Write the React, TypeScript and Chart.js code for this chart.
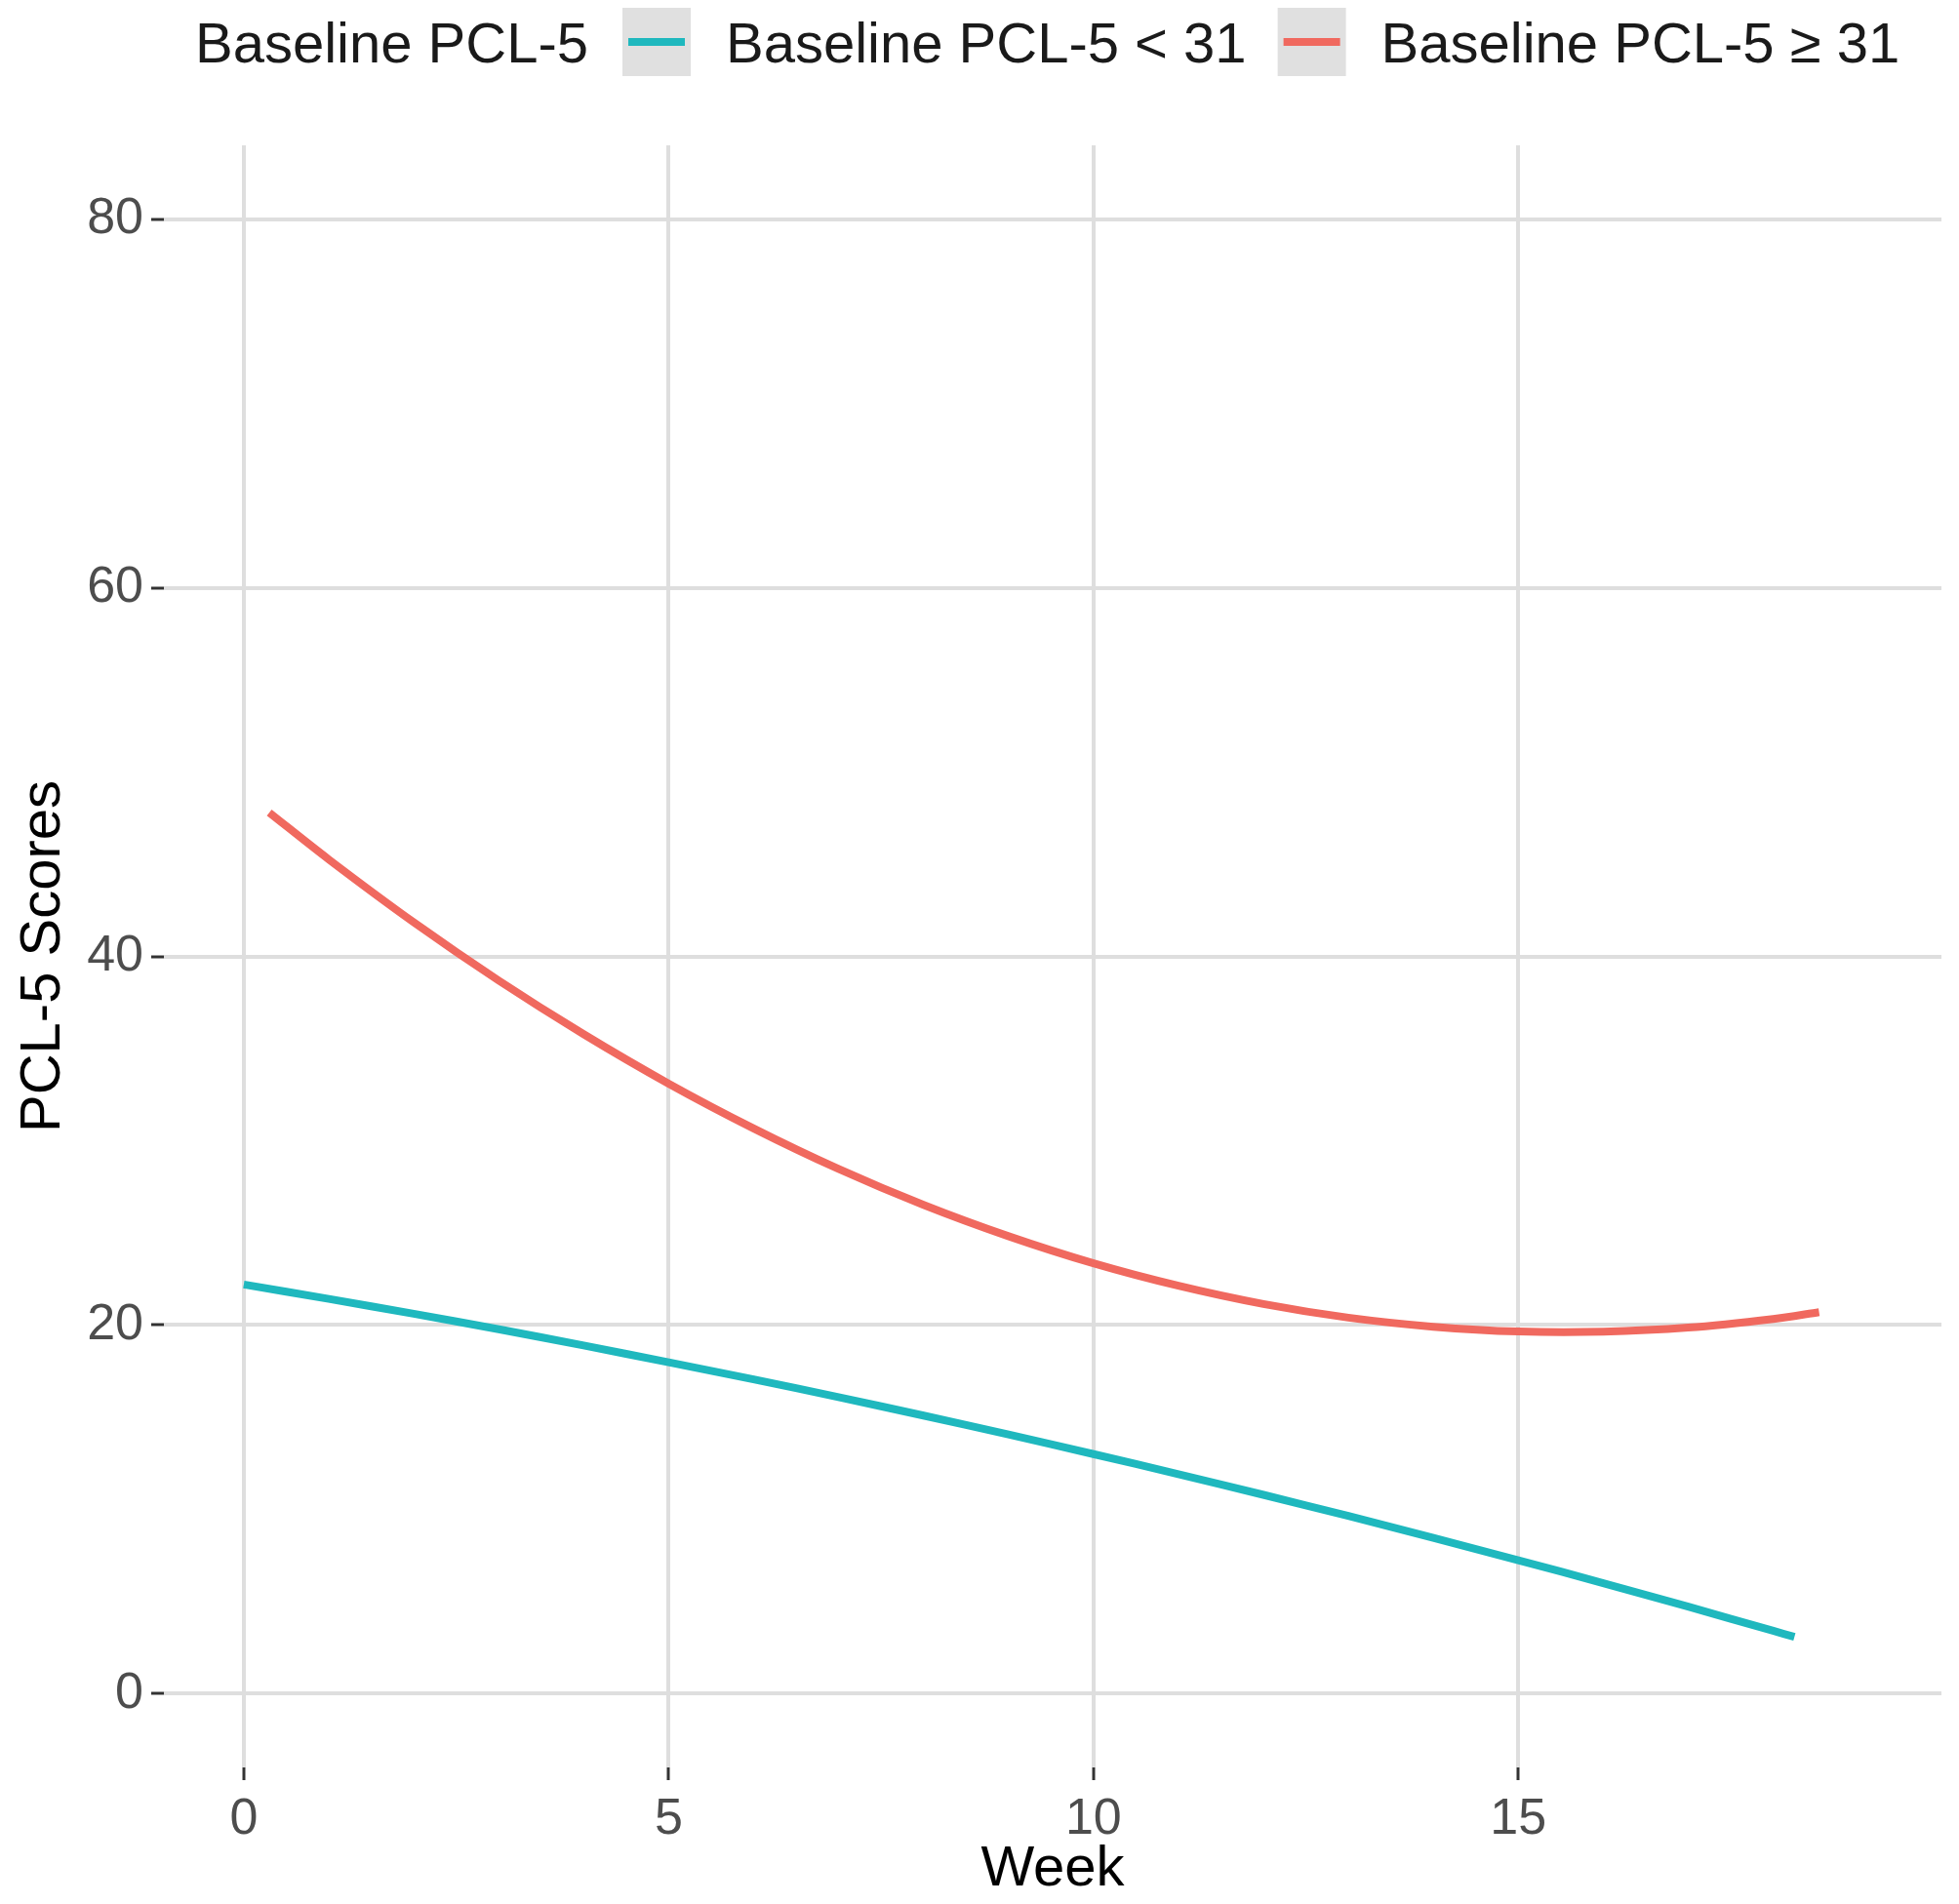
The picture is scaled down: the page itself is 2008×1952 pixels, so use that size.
import React, { useEffect, useRef } from "react";
import { Chart, registerables } from "chart.js";

Chart.register(...registerables);

// ---- data ----
const legendTitle = "Baseline PCL-5";
const seriesLabels = ["Baseline PCL-5 < 31", "Baseline PCL-5 ≥ 31"];
const seriesColors = ["#1fb8be", "#f0695f"];

const weeksLow = [0, 1, 2, 3, 4, 5, 6, 7, 8, 9, 10, 11, 12, 13, 14, 15, 16, 17, 18, 18.25];
const scoresLow = [22.2, 21.42, 20.61, 19.77, 18.89, 17.98, 17.05, 16.09, 15.09, 14.06, 13.0, 11.91, 10.79, 9.64, 8.45, 7.24, 6.0, 4.72, 3.41, 3.08];

const weeksHigh = [0.3, 1, 2, 3, 4, 5, 6, 7, 8, 9, 10, 11, 12, 13, 14, 15, 16, 17, 18, 18.54];
const scoresHigh = [47.8, 45.26, 41.85, 38.69, 35.78, 33.1, 30.67, 28.47, 26.52, 24.82, 23.35, 22.13, 21.14, 20.4, 19.91, 19.65, 19.64, 19.86, 20.33, 20.7];

const xTicks = [0, 5, 10, 15];
const yTicks = [0, 20, 40, 60, 80];
const xTitle = "Week";
const yTitle = "PCL-5 Scores";

const FONT = '"Liberation Sans", Arial, sans-serif';

const legendPlugin = {
  id: "ggLegend",
  afterDraw(chart: any) {
    const ctx = chart.ctx;
    ctx.save();
    ctx.font = `58px ${FONT}`;
    ctx.textBaseline = "alphabetic";
    ctx.textAlign = "left";
    const cy = 43;
    const baseY = 64;
    let x = 200;
    ctx.fillStyle = "#1a1a1a";
    ctx.fillText(legendTitle, x, baseY);
    x += ctx.measureText(legendTitle).width + 35;
    chart.data.datasets.forEach((ds: any) => {
      ctx.fillStyle = "#e0e0e0";
      ctx.fillRect(x, 8, 70, 70);
      ctx.strokeStyle = ds.borderColor;
      ctx.lineWidth = 8;
      ctx.lineCap = "butt";
      ctx.beginPath();
      ctx.moveTo(x + 6, cy);
      ctx.lineTo(x + 64, cy);
      ctx.stroke();
      x += 70 + 36;
      ctx.fillStyle = "#1a1a1a";
      ctx.fillText(ds.label, x, baseY);
      x += ctx.measureText(ds.label).width + 32;
    });
    ctx.restore();
  },
};

export default function App() {
  const canvasRef = useRef<HTMLCanvasElement | null>(null);

  useEffect(() => {
    if (!canvasRef.current) return;
    const toPoints = (xs: number[], ys: number[]) => xs.map((x, i) => ({ x, y: ys[i] }));
    const chart = new Chart(canvasRef.current, {
      type: "line",
      data: {
        datasets: [
          {
            label: seriesLabels[0],
            data: toPoints(weeksLow, scoresLow),
            borderColor: seriesColors[0],
            backgroundColor: seriesColors[0],
            borderWidth: 8,
            pointRadius: 0,
            tension: 0.3,
            borderCapStyle: "butt",
            fill: false,
          },
          {
            label: seriesLabels[1],
            data: toPoints(weeksHigh, scoresHigh),
            borderColor: seriesColors[1],
            backgroundColor: seriesColors[1],
            borderWidth: 8,
            pointRadius: 0,
            tension: 0.3,
            borderCapStyle: "butt",
            fill: false,
          },
        ],
      },
      options: {
        responsive: false,
        animation: false,
        devicePixelRatio: 1,
        layout: { padding: { top: 149, right: 18, left: 0, bottom: 0 } },
        plugins: {
          legend: { display: false },
          tooltip: { enabled: false },
        },
        scales: {
          x: {
            type: "linear",
            min: -0.94,
            max: 19.98,
            afterBuildTicks: (s: any) => {
              s.ticks = xTicks.map((v) => ({ value: v }));
            },
            afterFit: (s: any) => {
              s.height = 140;
            },
            ticks: {
              font: { family: FONT, size: 52 },
              color: "#4d4d4d",
              padding: 9,
              maxRotation: 0,
              autoSkip: false,
            },
            grid: {
              color: "#dedede",
              lineWidth: 4,
              tickLength: 13,
              tickColor: "#333333",
              tickWidth: 3,
            },
            border: { display: false },
            title: {
              display: true,
              text: xTitle,
              color: "#000000",
              font: { family: FONT, size: 58 },
              padding: { top: 0, bottom: 0 },
            },
          },
          y: {
            type: "linear",
            min: -4,
            max: 84,
            afterBuildTicks: (s: any) => {
              s.ticks = yTicks.map((v) => ({ value: v }));
            },
            afterFit: (s: any) => {
              s.width = 168;
            },
            ticks: {
              font: { family: FONT, size: 52 },
              color: "#4d4d4d",
              padding: 8,
              autoSkip: false,
            },
            grid: {
              color: "#dedede",
              lineWidth: 4,
              tickLength: 13,
              tickColor: "#333333",
              tickWidth: 3,
            },
            border: { display: false },
            title: {
              display: true,
              text: yTitle,
              color: "#000000",
              font: { family: FONT, size: 58 },
              padding: { top: 10, bottom: 0 },
            },
          },
        },
      },
      plugins: [legendPlugin],
    } as any);
    return () => chart.destroy();
  }, []);

  return (
    <div style={{ position: "absolute", left: 0, top: 0, width: 2008, height: 1952, background: "#ffffff" }}>
      <canvas ref={canvasRef} width={2008} height={1952} style={{ width: 2008, height: 1952, display: "block" }} />
    </div>
  );
}
